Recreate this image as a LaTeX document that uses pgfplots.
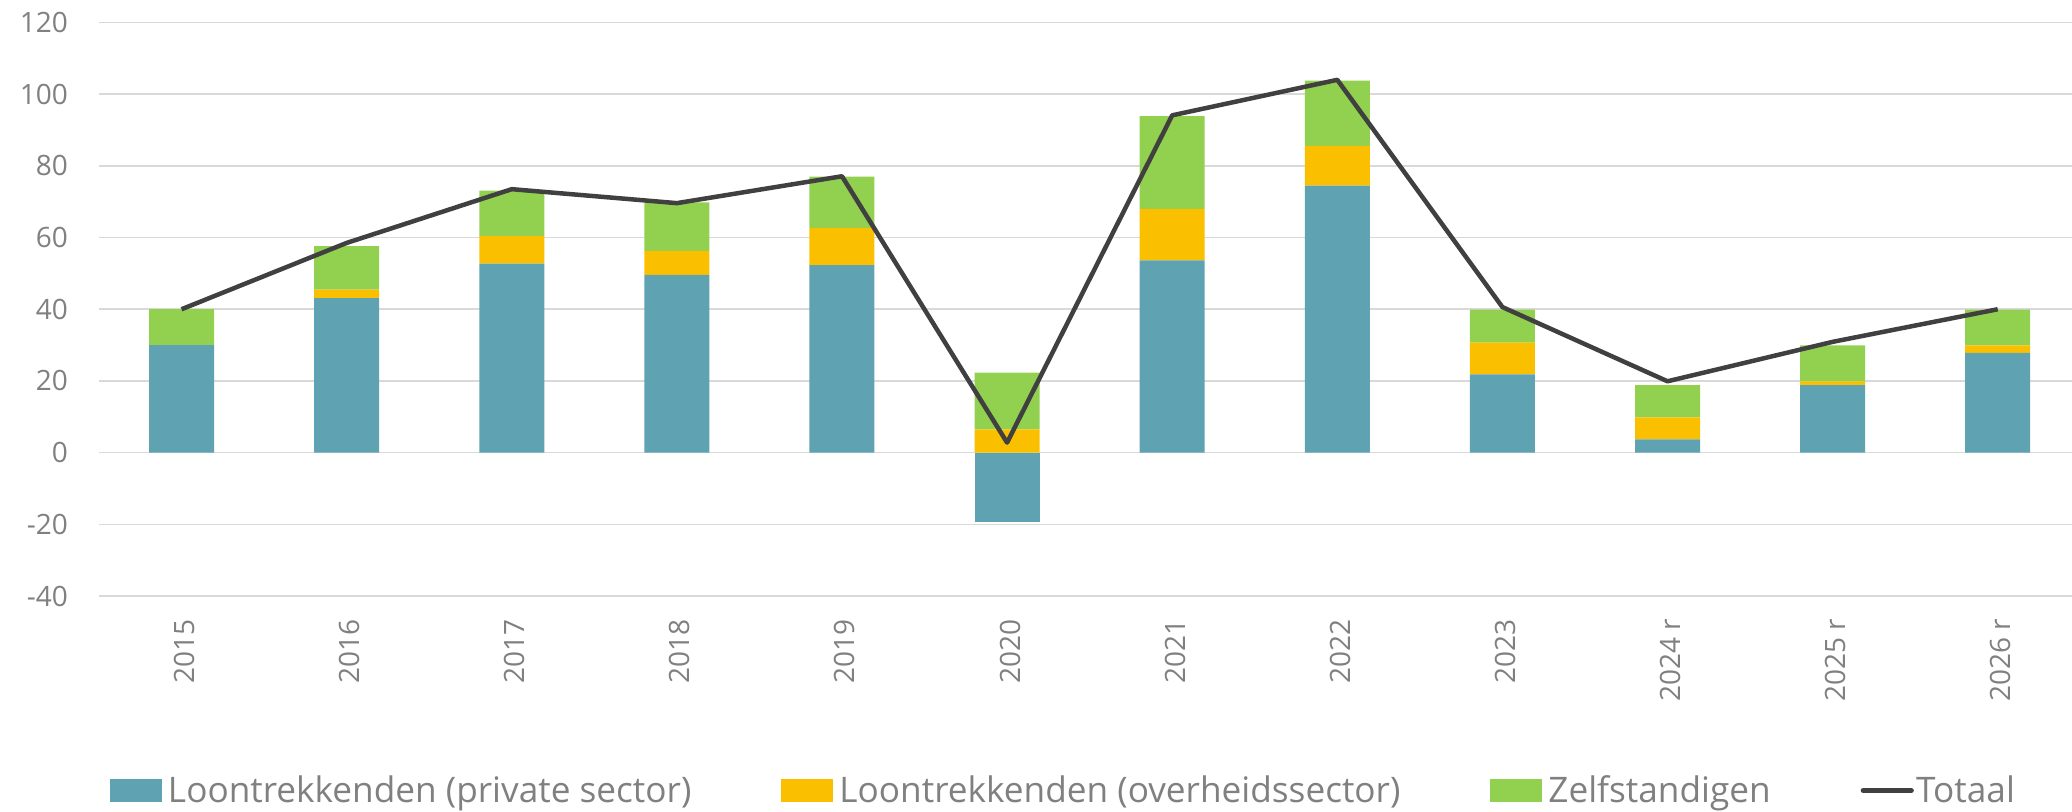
\documentclass[border=0pt]{standalone}
\usepackage{fontspec}
\setmainfont{Open Sans}
\usepackage{pgfplots}
\pgfplotsset{compat=1.18}
\definecolor{cPriv}{RGB}{95,162,178}
\definecolor{cPub}{RGB}{250,192,0}
\definecolor{cZelf}{RGB}{146,208,80}
\definecolor{cLine}{RGB}{64,64,64}
\definecolor{cGrid}{RGB}{217,217,217}
\definecolor{cText}{RGB}{128,128,128}
\pgfplotsset{
  basestyle/.style={
    width=986.5pt, height=286.75pt, scale only axis,
    xmin=-0.5, xmax=11.45, ymin=-40, ymax=120,
    axis line style={draw=none},
    major tick length=0pt,
    tick style={draw=none},
  },
  barleg/.style={legend image code/.code={\fill[##1] (0pt,-5.75pt) rectangle (26pt,5.75pt); \path (29pt,0pt);}},
}
\newcommand{\tfont}{\fontsize{14}{16}\selectfont}
\newcommand{\lfont}{\fontsize{17.6}{20}\selectfont}
\begin{document}
\begin{tikzpicture}
\begin{axis}[basestyle,
  ybar stacked, bar width=32.5pt,
  ymajorgrids, grid style={cGrid, line width=0.75pt},
  xtick={0,...,11},
  xticklabels={2015,2016,2017,2018,2019,2020,2021,2022,2023,2024 r,2025 r,2026 r},
  ytick={-40,-20,0,20,40,60,80,100,120},
  yticklabels={-40,-20,0,20,40,60,80,100,120},
  tick label style={font=\tfont, text=cText},
  y tick label style={anchor=east, xshift=-12pt},
  x tick label style={rotate=90, anchor=east, xshift=-8pt, yshift=-1.5pt},
  legend columns=4,
  legend style={draw=none, fill=none, at={(axis description cs:0.005575,-0.3391)}, anchor=west,
    inner sep=0pt, outer sep=0pt, column sep=0pt, font=\lfont, text=cText,
    nodes={inner sep=0pt},
    /tikz/every even column/.append style={column sep=45pt}},
]
\addplot[fill=cPriv, draw=none, barleg] coordinates {(0,30) (1,43.1) (2,52.7) (3,49.6) (4,52.3) (5,0) (6,53.6) (7,74.5) (8,21.8) (9,3.7) (10,18.8) (11,27.8)};
\addlegendentry{Loontrekkenden (private sector)}
\addplot[fill=cPub, draw=none, barleg] coordinates {(0,0) (1,2.4) (2,7.7) (3,6.7) (4,10.4) (5,6.5) (6,14.4) (7,11.1) (8,8.9) (9,6.1) (10,1.1) (11,2.1)};
\addlegendentry{Loontrekkenden (overheidssector)}
\addplot[fill=cZelf, draw=none, barleg] coordinates {(0,10) (1,12.1) (2,12.7) (3,13.5) (4,14.3) (5,15.8) (6,25.9) (7,18.2) (8,9.2) (9,9.0) (10,10.0) (11,10.0)};
\addlegendentry{Zelfstandigen}
\addlegendimage{legend image code/.code={\draw[cLine, line width=2.5pt, line cap=round] (1.2pt,0pt) -- (25.3pt,0pt); \path (27.5pt,0pt);}}
\addlegendentry{Totaal}
\end{axis}
\begin{axis}[basestyle, xtick=\empty, ytick=\empty]
\addplot[ybar, bar width=32.5pt, bar shift=0pt, fill=cPriv, draw=none] coordinates {(5,-19.4)};
\addplot[cLine, line width=2.25pt, line join=round, mark=none] coordinates {(0,40) (1,58.5) (2,73.5) (3,69.6) (4,77.1) (5,2.8) (6,94.1) (7,104) (8,40.6) (9,19.9) (10,30.9) (11,40)};
\end{axis}
\pgfresetboundingbox
\useasboundingbox (-49.5pt,-108pt) rectangle (986.5pt,298pt);
\end{tikzpicture}
\end{document}
